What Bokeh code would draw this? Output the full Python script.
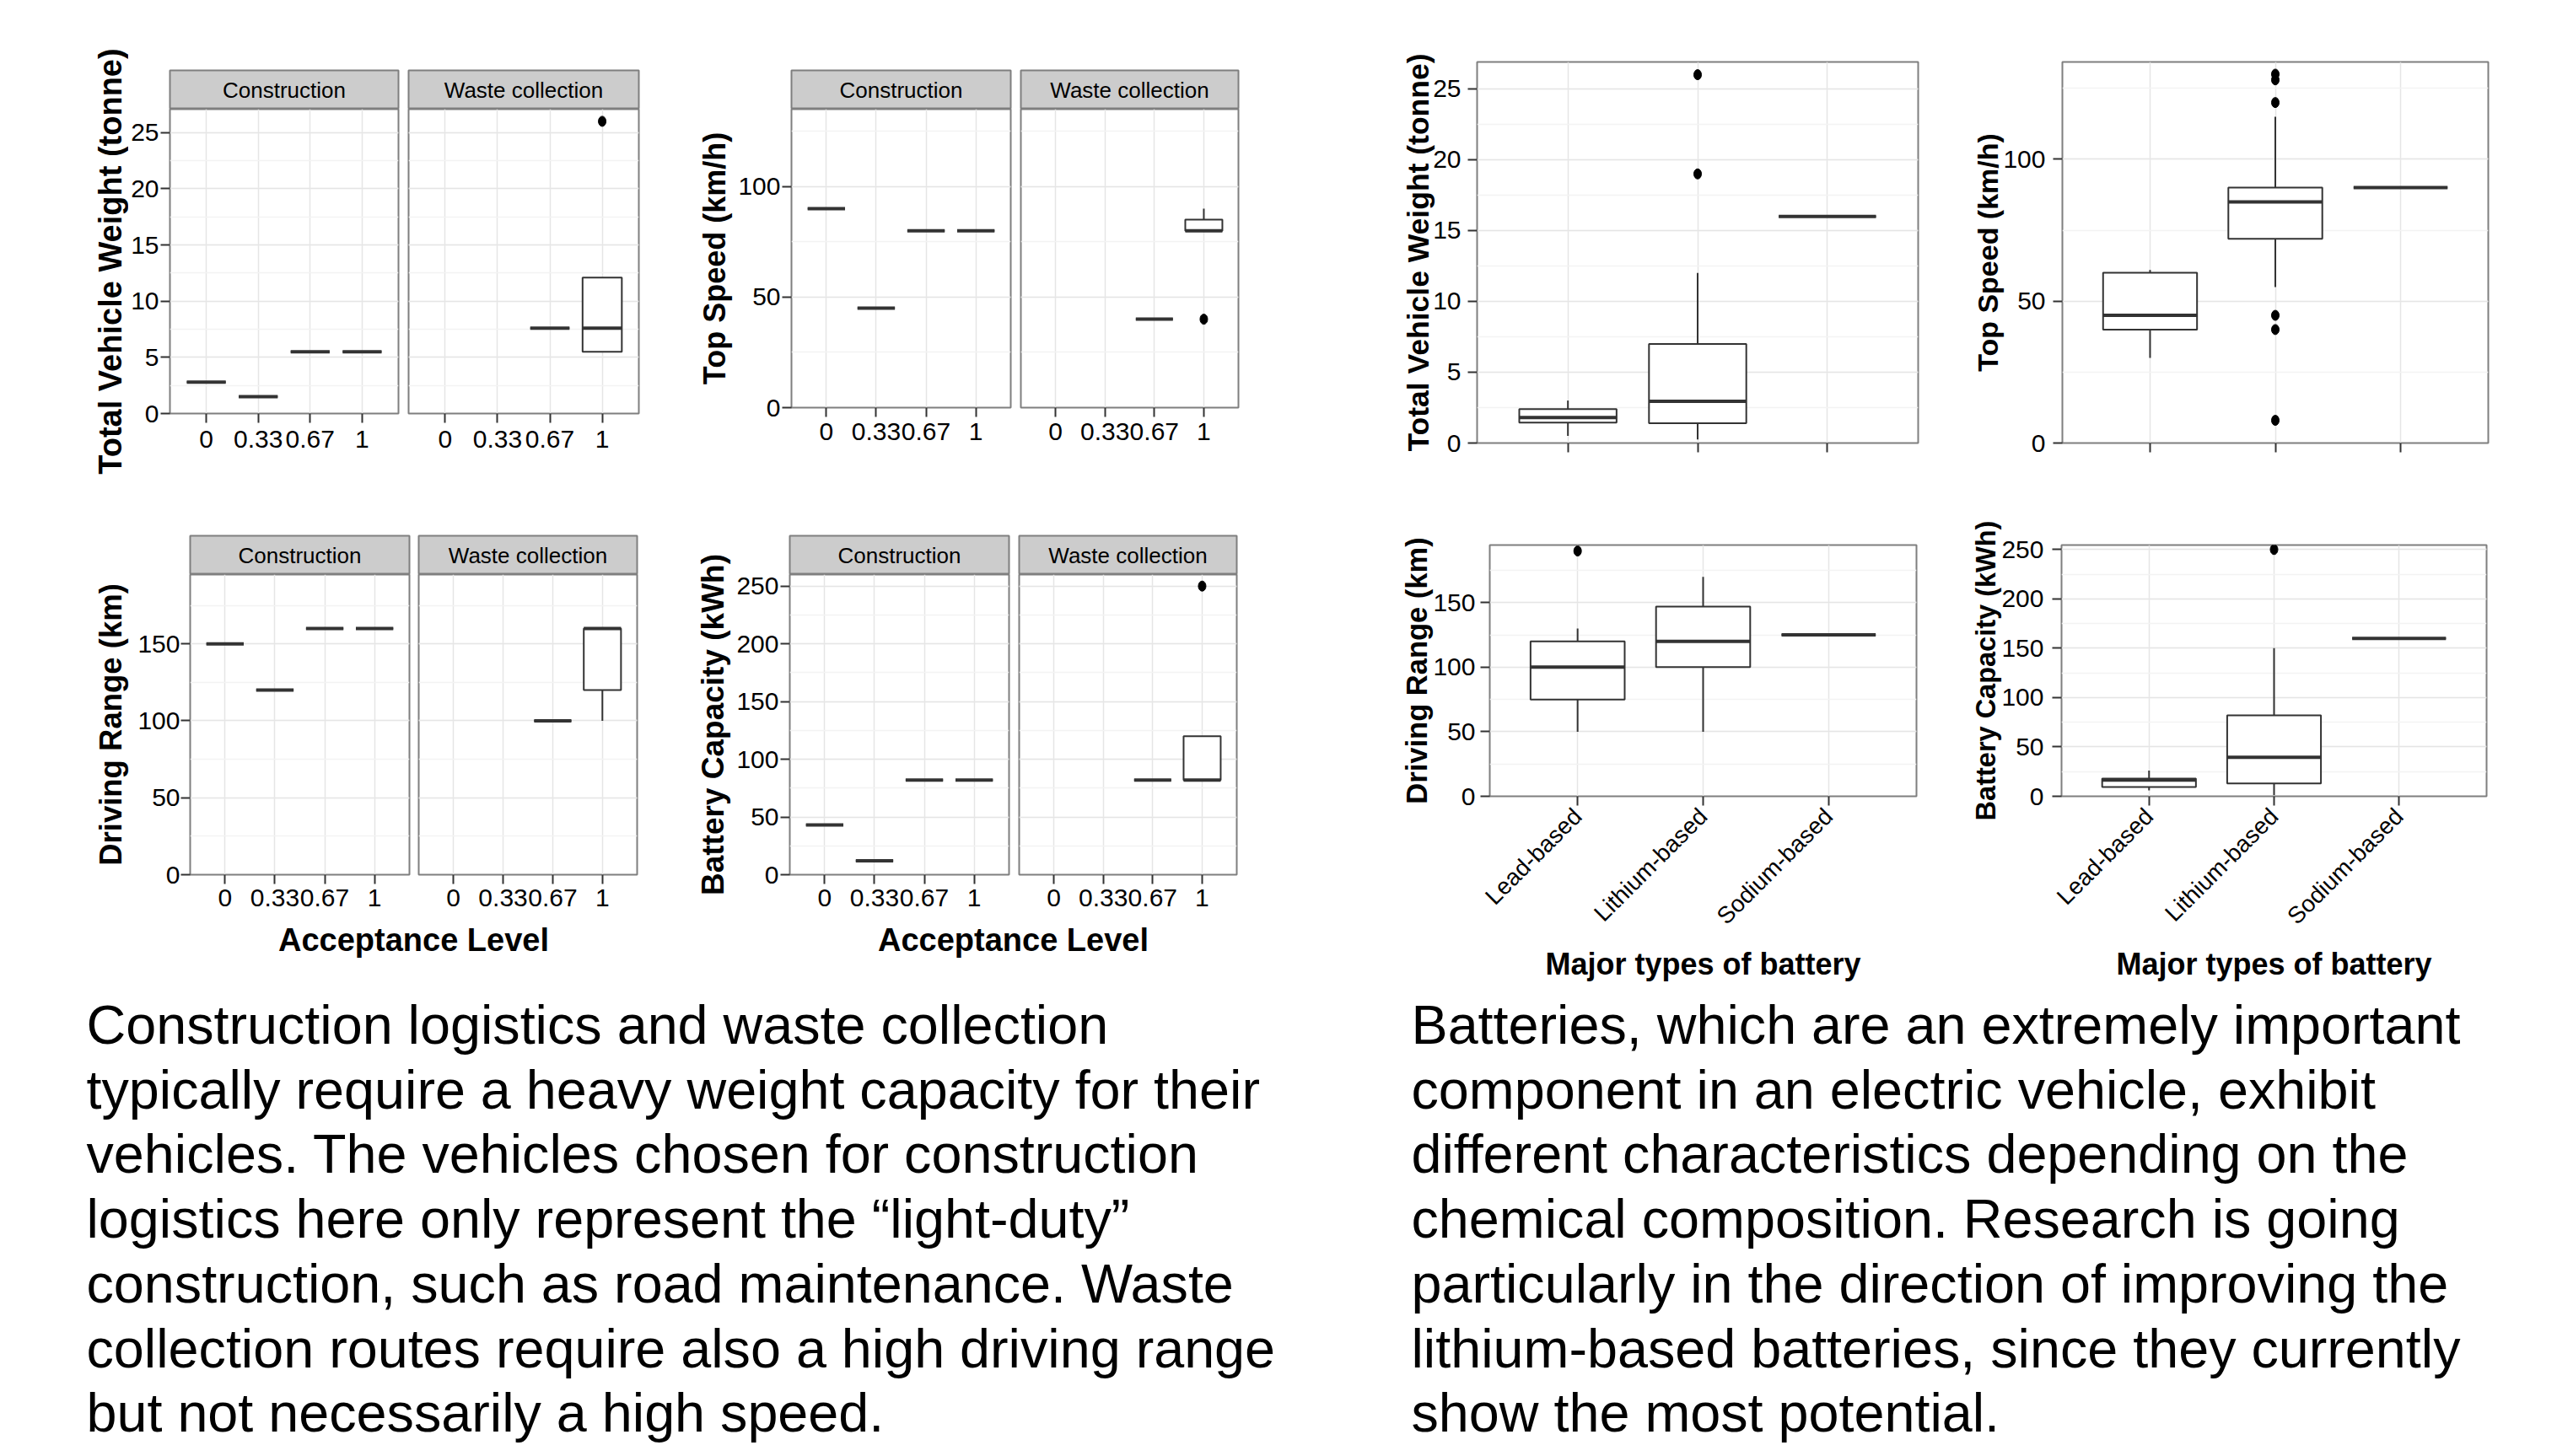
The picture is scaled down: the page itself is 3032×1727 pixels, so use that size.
import math
from bokeh.plotting import figure
from bokeh.layouts import row, column
from bokeh.models import FactorRange, Range1d, SingleIntervalTicker, Grid, ColumnDataSource
from bokeh.core.properties import value
from bokeh.embed import file_html
from bokeh.resources import INLINE

# ---------------- data ----------------
acceptance_levels = ["0", "0.33", "0.67", "1"]
battery_types = ["Lead-based", "Lithium-based", "Sodium-based"]
facet_names = ["Construction", "Waste collection"]

# Total vehicle weight (tonne) by acceptance level
tvw_con_cat = ["0", "0.33", "0.67", "1"]
tvw_con_low = [2.8, 1.5, 5.5, 5.5]
tvw_con_q1 = [2.8, 1.5, 5.5, 5.5]
tvw_con_med = [2.8, 1.5, 5.5, 5.5]
tvw_con_q3 = [2.8, 1.5, 5.5, 5.5]
tvw_con_high = [2.8, 1.5, 5.5, 5.5]
tvw_was_cat = ["0.67", "1"]
tvw_was_low = [7.6, 5.5]
tvw_was_q1 = [7.6, 5.5]
tvw_was_med = [7.6, 7.6]
tvw_was_q3 = [7.6, 12.1]
tvw_was_high = [7.6, 12.1]
tvw_was_out_cat = ["1"]
tvw_was_out_val = [26]

# Top speed (km/h) by acceptance level
spd_con_cat = ["0", "0.33", "0.67", "1"]
spd_con_low = [90, 45, 80, 80]
spd_con_q1 = [90, 45, 80, 80]
spd_con_med = [90, 45, 80, 80]
spd_con_q3 = [90, 45, 80, 80]
spd_con_high = [90, 45, 80, 80]
spd_was_cat = ["0.67", "1"]
spd_was_low = [40, 80]
spd_was_q1 = [40, 80]
spd_was_med = [40, 80]
spd_was_q3 = [40, 85]
spd_was_high = [40, 90]
spd_was_out_cat = ["1"]
spd_was_out_val = [40]

# Driving range (km) by acceptance level
rng_con_cat = ["0", "0.33", "0.67", "1"]
rng_con_low = [150, 120, 160, 160]
rng_con_q1 = [150, 120, 160, 160]
rng_con_med = [150, 120, 160, 160]
rng_con_q3 = [150, 120, 160, 160]
rng_con_high = [150, 120, 160, 160]
rng_was_cat = ["0.67", "1"]
rng_was_low = [100, 100]
rng_was_q1 = [100, 120]
rng_was_med = [100, 160]
rng_was_q3 = [100, 160]
rng_was_high = [100, 160]

# Battery capacity (kWh) by acceptance level
cap_con_cat = ["0", "0.33", "0.67", "1"]
cap_con_low = [43, 12, 82, 82]
cap_con_q1 = [43, 12, 82, 82]
cap_con_med = [43, 12, 82, 82]
cap_con_q3 = [43, 12, 82, 82]
cap_con_high = [43, 12, 82, 82]
cap_was_cat = ["0.67", "1"]
cap_was_low = [82, 82]
cap_was_q1 = [82, 82]
cap_was_med = [82, 82]
cap_was_q3 = [82, 120]
cap_was_high = [82, 120]
cap_was_out_cat = ["1"]
cap_was_out_val = [250]

# By battery type (Lead, Lithium, Sodium)
bat_tvw_low = [0.5, 0.25, 16]
bat_tvw_q1 = [1.45, 1.4, 16]
bat_tvw_med = [1.8, 2.95, 16]
bat_tvw_q3 = [2.4, 7.0, 16]
bat_tvw_high = [3.0, 12.0, 16]
bat_tvw_out_cat = ["Lithium-based", "Lithium-based"]
bat_tvw_out_val = [26, 19]

bat_spd_low = [30, 55, 90]
bat_spd_q1 = [40, 72, 90]
bat_spd_med = [45, 85, 90]
bat_spd_q3 = [60, 90, 90]
bat_spd_high = [61, 115, 90]
bat_spd_out_cat = ["Lithium-based"] * 6
bat_spd_out_val = [130, 128, 120, 45, 40, 8]

bat_rng_low = [50, 50, 125]
bat_rng_q1 = [75, 100, 125]
bat_rng_med = [100, 120, 125]
bat_rng_q3 = [120, 147, 125]
bat_rng_high = [130, 170, 125]
bat_rng_out_cat = ["Lead-based"]
bat_rng_out_val = [190]

bat_cap_low = [6, 1, 160]
bat_cap_q1 = [9.5, 13, 160]
bat_cap_med = [16.5, 39.5, 160]
bat_cap_q3 = [18, 82, 160]
bat_cap_high = [26, 150, 160]
bat_cap_out_cat = ["Lithium-based"]
bat_cap_out_val = [250]

left_text = [
    "Construction logistics and waste collection",
    "typically require a heavy weight capacity for their",
    "vehicles. The vehicles chosen for construction",
    "logistics here only represent the \u201clight-duty\u201d",
    "construction, such as road maintenance. Waste",
    "collection routes require also a high driving range",
    "but not necessarily a high speed.",
]
right_text = [
    "Batteries, which are an extremely important",
    "component in an electric vehicle, exhibit",
    "different characteristics depending on the",
    "chemical composition. Research is going",
    "particularly in the direction of improving the",
    "lithium-based batteries, since they currently",
    "show the most potential.",
]

# ---------------- style ----------------
SANS = "Liberation Sans"
BOX_LINE = "#333333"
GRID_MAJOR = "#e5e5e5"
GRID_MINOR = "#f3f3f3"
BORDER = "#7f7f7f"
STRIP_FILL = "#cccccc"
TICK_FONT = "30px"


def draw_boxes(p, cats, low, q1, med, q3, high, out_cat=None, out_val=None):
    src = ColumnDataSource(dict(
        x=cats, low=low, q1=q1, med=med, q3=q3, high=high,
        xl=[(c, -0.375) for c in cats], xr=[(c, 0.375) for c in cats]))
    p.segment(x0="x", y0="q3", x1="x", y1="high", source=src, line_color=BOX_LINE, line_width=2)
    p.segment(x0="x", y0="low", x1="x", y1="q1", source=src, line_color=BOX_LINE, line_width=2)
    p.vbar(x="x", bottom="q1", top="q3", width=0.75, source=src,
           fill_color="white", line_color=BOX_LINE, line_width=2)
    p.segment(x0="xl", y0="med", x1="xr", y1="med", source=src, line_color=BOX_LINE,
              line_width=4, line_cap="butt")
    if out_cat:
        p.ellipse(x=out_cat, y=out_val, width=9, height=12, width_units="screen",
                  height_units="screen", fill_color="black", line_color="black")


def style_axes(p):
    for ax in p.axis:
        ax.axis_line_color = None
        ax.major_tick_out = 11
        ax.major_tick_in = 0
        ax.major_tick_line_color = "#333333"
        ax.major_tick_line_width = 2
        ax.minor_tick_line_color = None
        ax.major_label_text_font = SANS
        ax.major_label_text_font_size = TICK_FONT
        ax.major_label_text_color = "black"


def base_fig(factors, y_end, left, width, right, top, height, bottom, show_y):
    p = figure(title=None,
               x_range=FactorRange(factors=factors, range_padding=0.2, range_padding_units="absolute"),
               y_range=Range1d(0, y_end),
               y_axis_type="linear" if show_y else None,
               frame_width=width, frame_height=height,
               min_border_left=left, min_border_right=right,
               min_border_top=top, min_border_bottom=bottom,
               output_backend="svg", toolbar_location=None)
    p.outline_line_color = BORDER
    p.outline_line_width = 2
    p.background_fill_color = "white"
    p.border_fill_color = "white"
    p.xgrid.grid_line_color = GRID_MAJOR
    p.xgrid.grid_line_width = 1.5
    return p


def add_ygrid(p, interval, show_y):
    tk = SingleIntervalTicker(interval=interval, num_minor_ticks=2)
    if show_y:
        p.yaxis.ticker = tk
        p.ygrid.grid_line_color = GRID_MAJOR
        p.ygrid.grid_line_width = 1.5
        p.ygrid.minor_grid_line_color = GRID_MINOR
        p.ygrid.minor_grid_line_width = 1.5
    else:
        g = Grid(dimension=1, ticker=tk, grid_line_color=GRID_MAJOR, grid_line_width=1.5,
                 minor_grid_line_color=GRID_MINOR, minor_grid_line_width=1.5)
        p.add_layout(g)


def make_strip(label, left, width, right, top, height):
    s = figure(title=None, x_range=Range1d(0, 1), y_range=Range1d(0, 1),
               x_axis_type=None, y_axis_type=None,
               frame_width=width, frame_height=height,
               min_border_left=left, min_border_right=right,
               min_border_top=top, min_border_bottom=0,
               output_backend="svg", toolbar_location=None)
    s.background_fill_color = STRIP_FILL
    s.border_fill_color = "white"
    s.outline_line_color = BORDER
    s.outline_line_width = 2
    s.text(x=[0.5], y=[0.5], text=[label], text_align="center", text_baseline="middle",
           text_font=value(SANS), text_font_size="26px", text_color="black")
    return s


def label_fig(text, width, height, cx, cy_from_top, size):
    f = figure(title=None, x_range=Range1d(0, width), y_range=Range1d(0, height),
               x_axis_type=None, y_axis_type=None, width=width, height=height,
               min_border=0, output_backend="svg", toolbar_location=None)
    f.outline_line_color = None
    f.text(x=[cx], y=[height - cy_from_top], text=[text], angle=math.pi / 2,
           text_align="center", text_baseline="middle", text_font=value(SANS),
           text_font_style="bold", text_font_size=size, text_color="black")
    return f


def caption(text, width, height, cx, cy, size):
    c = figure(title=None, x_range=Range1d(0, width), y_range=Range1d(height, 0),
               x_axis_type=None, y_axis_type=None, width=width, height=height,
               min_border=0, output_backend="svg", toolbar_location=None)
    c.outline_line_color = None
    c.text(x=[cx], y=[cy], text=[text], text_align="center", text_baseline="middle",
           text_font=value(SANS), text_font_size=size, text_font_style="bold", text_color="black")
    return c


def facet_plot(lab, y_end, interval, con_box, was_box, geo,
               strip_top, strip_h, panel_h, panel_bottom, xlab_standoff, ylab_standoff):
    cols = [label_fig(*lab)]
    for i, (name, box) in enumerate(zip(facet_names, [con_box, was_box])):
        left, width, right = geo[i]
        show_y = (i == 0)
        strip = make_strip(name, left, width, right, strip_top, strip_h)
        p = base_fig(acceptance_levels, y_end, left, width, right, 0, panel_h, panel_bottom, show_y)
        add_ygrid(p, interval, show_y)
        draw_boxes(p, *box)
        style_axes(p)
        p.xaxis.major_label_standoff = xlab_standoff
        if show_y:
            p.yaxis.major_label_standoff = ylab_standoff
        cols.append(column(strip, p, spacing=0))
    return row(*cols, spacing=0)


def battery_plot(ylabel, label_size, label_standoff, tick_standoff, y_end, interval, box,
                 left, width, right, top, height, bottom, show_xlabels):
    p = base_fig(battery_types, y_end, left, width, right, top, height, bottom, True)
    add_ygrid(p, interval, True)
    draw_boxes(p, battery_types, *box)
    style_axes(p)
    p.yaxis.major_label_standoff = tick_standoff
    p.yaxis.axis_label = ylabel
    p.yaxis.axis_label_text_font = SANS
    p.yaxis.axis_label_text_font_style = "bold"
    p.yaxis.axis_label_text_font_size = label_size
    p.yaxis.axis_label_standoff = label_standoff
    p.yaxis.axis_label_text_color = "black"
    if show_xlabels:
        p.xaxis.major_label_orientation = math.pi / 4
        p.xaxis.major_label_text_font_size = "28px"
        p.xaxis.major_label_standoff = 8
        p.xaxis.axis_label = "Major types of battery"
        p.xaxis.axis_label_text_font = SANS
        p.xaxis.axis_label_text_font_style = "bold"
        p.xaxis.axis_label_text_font_size = "36px"
        p.xaxis.axis_label_standoff = 7
        p.xaxis.axis_label_text_color = "black"
    else:
        # the reference shows only tick marks here, no tick labels
        p.xaxis.major_label_text_font_size = "10px"
        p.xaxis.major_label_text_color = None
    return p


# ---------------- top row (y 0..580) ----------------
plotA = facet_plot(
    ("Total Vehicle Weight (tonne)", 152, 580, 130, 309.5, "38px"), 27.08, 5,
    (tvw_con_cat, tvw_con_low, tvw_con_q1, tvw_con_med, tvw_con_q3, tvw_con_high),
    (tvw_was_cat, tvw_was_low, tvw_was_q1, tvw_was_med, tvw_was_q3, tvw_was_high,
     tvw_was_out_cat, tvw_was_out_val),
    [(47, 271, 6), (6, 273, 45)], 83, 46, 361, 90, 9, 2)
plotB = facet_plot(
    ("Top Speed (km/h)", 68, 580, 44.6, 306, "36px"), 135, 50,
    (spd_con_cat, spd_con_low, spd_con_q1, spd_con_med, spd_con_q3, spd_con_high),
    (spd_was_cat, spd_was_low, spd_was_q1, spd_was_med, spd_was_q3, spd_was_high,
     spd_was_out_cat, spd_was_out_val),
    [(68, 260, 6), (6, 258, 134)], 83, 46, 354, 97, 7, 2)
plotE = battery_plot("Total Vehicle Weight (tonne)", "35.5px", -6, 8, 26.9, 5,
                     (bat_tvw_low, bat_tvw_q1, bat_tvw_med, bat_tvw_q3, bat_tvw_high,
                      bat_tvw_out_cat, bat_tvw_out_val),
                     149, 523, 28, 73, 452, 55, False)
plotF = battery_plot("Top Speed (km/h)", "34px", -4, 9, 134.3, 50,
                     (bat_spd_low, bat_spd_q1, bat_spd_med, bat_spd_q3, bat_spd_high,
                      bat_spd_out_cat, bat_spd_out_val),
                     143, 505, 84, 73, 452, 55, False)

# ---------------- bottom row (y 580..1170) ----------------
plotC = facet_plot(
    ("Driving Range (km)", 155, 513, 131, 279, "36.5px"), 195, 50,
    (rng_con_cat, rng_con_low, rng_con_q1, rng_con_med, rng_con_q3, rng_con_high),
    (rng_was_cat, rng_was_low, rng_was_q1, rng_was_med, rng_was_q3, rng_was_high),
    [(70, 260, 6), (5, 259, 45)], 55, 46, 356, 56, 6, 1)
plotD = facet_plot(
    ("Battery Capacity (kWh)", 68, 513, 44.6, 279, "37px"), 260, 50,
    (cap_con_cat, cap_con_low, cap_con_q1, cap_con_med, cap_con_q3, cap_con_high),
    (cap_was_cat, cap_was_low, cap_was_q1, cap_was_med, cap_was_q3, cap_was_high,
     cap_was_out_cat, cap_was_out_val),
    [(68, 260, 6), (6, 258, 134)], 55, 46, 356, 56, 6, 2)
blockC = column(plotC, caption("Acceptance Level", 800, 77, 490, 21, "38px"), spacing=0)
blockD = column(plotD, caption("Acceptance Level", 800, 77, 401, 21, "38px"), spacing=0)
plotG = battery_plot("Driving Range (km)", "34.5px", -3, 6, 194.6, 50,
                     (bat_rng_low, bat_rng_q1, bat_rng_med, bat_rng_q3, bat_rng_high,
                      bat_rng_out_cat, bat_rng_out_val),
                     166, 506, 28, 66, 298, 226, True)
plotH = battery_plot("Battery Capacity (kWh)", "32.5px", -3, 10, 254.5, 50,
                     (bat_cap_low, bat_cap_q1, bat_cap_med, bat_cap_q3, bat_cap_high,
                      bat_cap_out_cat, bat_cap_out_val),
                     144, 504, 84, 66, 298, 226, True)

# ---------------- text row (y 1170..1727) ----------------
T_W, T_H = 3032, 557
txt = figure(title=None, x_range=Range1d(0, T_W), y_range=Range1d(T_H, 0),
             x_axis_type=None, y_axis_type=None, width=T_W, height=T_H,
             min_border=0, output_backend="svg", toolbar_location=None)
txt.outline_line_color = None
line_step = 76.7
first_mid = 45
txt.text(x=[102] * len(left_text), y=[first_mid + i * line_step for i in range(len(left_text))],
         text=left_text, text_font=value(SANS), text_font_size="64.7px",
         text_baseline="middle", text_align="left", text_color="black")
txt.text(x=[1673] * len(right_text), y=[first_mid + i * line_step for i in range(len(right_text))],
         text=right_text, text_font=value(SANS), text_font_size="64.7px",
         text_baseline="middle", text_align="left", text_color="black")

top_row = row(plotA, plotB, plotE, plotF, spacing=0)
bottom_row = row(blockC, blockD, plotG, plotH, spacing=0)
page = column(top_row, bottom_row, txt, spacing=0)

open("out.html", "w").write(file_html(page, INLINE))
